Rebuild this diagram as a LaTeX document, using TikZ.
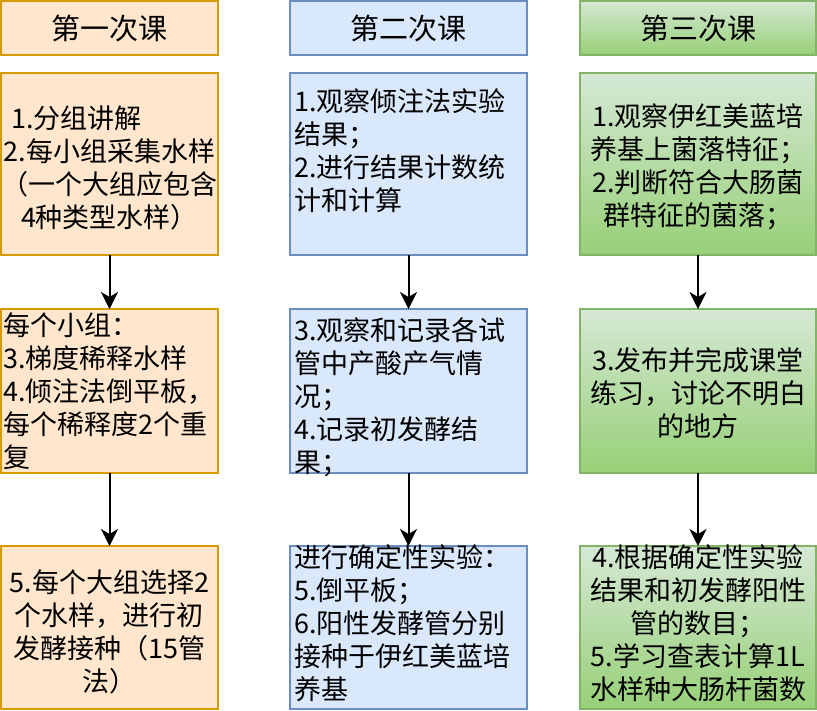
\documentclass[tikz,border=0pt]{standalone}
\usepackage{fontspec}
\setmainfont{Noto Sans CJK SC}
\usetikzlibrary{arrows.meta}
\definecolor{ofill}{HTML}{FFE6CC}
\definecolor{ostroke}{HTML}{D79B00}
\definecolor{bfill}{HTML}{DAE8FC}
\definecolor{bstroke}{HTML}{6C8EBF}
\definecolor{gtop}{HTML}{D5E8D4}
\definecolor{gbot}{HTML}{97D077}
\definecolor{gstroke}{HTML}{82B366}
\begin{document}
\begin{tikzpicture}[x=1pt,y=-1pt,
  frame/.style={line width=1.5pt, inner sep=0pt, outer sep=0pt, anchor=north west},
  obox/.style={frame, draw=ostroke, fill=ofill},
  bbox/.style={frame, draw=bstroke, fill=bfill},
  gbox/.style={frame, draw=gstroke, top color=gtop, bottom color=gbot},
  w1/.style={minimum width=217pt},
  w2/.style={minimum width=237pt},
  w3/.style={minimum width=236pt},
  htitle/.style={minimum height=54pt},
  hr1/.style={minimum height=182pt},
  hr2/.style={minimum height=164pt},
  hr3/.style={minimum height=163pt},
  ttl/.style={inner sep=0pt, font=\fontsize{29}{34}\selectfont},
  txt/.style={inner sep=0pt, font=\fontsize{27}{33}\selectfont},
  ctxt/.style={txt, align=center},
  ltxt/.style={txt, align=left, anchor=west},
  arr/.style={line width=2pt, -{Stealth[length=17pt, width=17pt, inset=5pt]}}
]
\useasboundingbox (0,0) rectangle (817,710);
% titles
\node[obox, w1, htitle] (t1) at (1,1) {};
\node[bbox, w2, htitle] (t2) at (290,1) {};
\node[gbox, w3, htitle] (t3) at (580,1) {};
% row 1
\node[obox, w1, hr1] (a1) at (1,73) {};
\node[bbox, w2, hr1] (b1) at (290,73) {};
\node[gbox, w3, hr1] (c1) at (580,73) {};
% row 2
\node[obox, w1, hr2] (a2) at (1,309) {};
\node[bbox, w2, hr2] (b2) at (290,309) {};
\node[gbox, w3, hr2] (c2) at (580,309) {};
% row 3
\node[obox, w1, hr3] (a3) at (1,546) {};
\node[bbox, w2, hr3] (b3) at (290,546) {};
\node[gbox, w3, hr3] (c3) at (580,546) {};
% arrows
\draw[arr] (a1.south) -- (a2.north);
\draw[arr] (a2.south) -- (a3.north);
\draw[arr] (b1.south) -- (b2.north);
\draw[arr] (b2.south) -- (b3.north);
\draw[arr] (c1.south) -- (c2.north);
\draw[arr] (c2.south) -- (c3.north);
% title texts
\node[ttl] (t1txt) at (t1.center) {第一次课};
\node[ttl] (t2txt) at (t2.center) {第二次课};
\node[ttl] (t3txt) at (t3.center) {第三次课};
% column 1 texts
\node[ctxt] (a1txt) at (109.5,167.5) {1.分组讲解\hspace*{66pt}\\2.每小组采集水样\\（一个大组应包含\\4种类型水样）};
\node[ltxt] (a2txt) at (3,391) {每个小组：\\3.梯度稀释水样\\4.倾注法倒平板，\\每个稀释度2个重\\复};
\node[ctxt] (a3txt) at (109.5,631.5) {5.每个大组选择2\\个水样，进行初\\发酵接种（15管\\法）};
% column 2 texts
\node[ltxt] (b1txt) at (294,151) {1.观察倾注法实验\\结果；\\2.进行结果计数统\\计和计算};
\node[ltxt] (b2txt) at (294,397) {3.观察和记录各试\\管中产酸产气情\\况；\\4.记录初发酵结\\果；};
\node[ltxt] (b3txt) at (294,623) {进行确定性实验：\\5.倒平板；\\6.阳性发酵管分别\\接种于伊红美蓝培\\养基};
% column 3 texts
\node[ctxt] (c1txt) at (698,166.5) {1.观察伊红美蓝培\\养基上菌落特征；\\2.判断符合大肠菌\\群特征的菌落；};
\node[ctxt] (c2txt) at (698,393.5) {3.发布并完成课堂\\练习，讨论不明白\\的地方};
\node[ctxt] (c3txt) at (698,623) {4.根据确定性实验\\结果和初发酵阳性\\管的数目；\\5.学习查表计算1L\\水样种大肠杆菌数};
\end{tikzpicture}
\end{document}
